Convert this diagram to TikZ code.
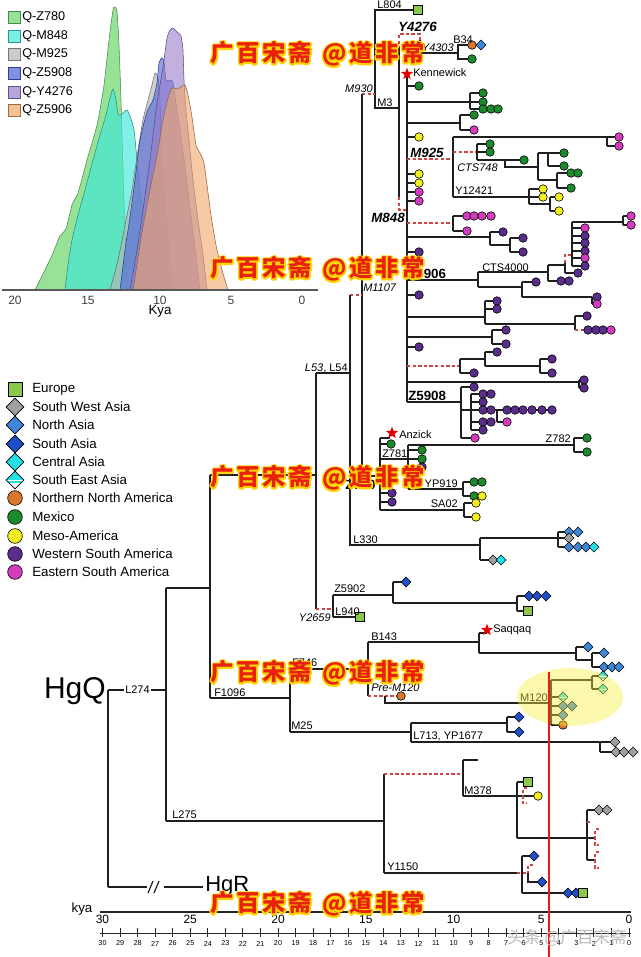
\documentclass[tikz,border=0pt]{standalone}
\usepackage{fontspec}
\setmainfont{Liberation Sans}
\newfontfamily\cjkf{Noto Sans CJK SC}
\usetikzlibrary{shapes.geometric}
\definecolor{cEU}{HTML}{8CC84B}
\definecolor{cSWA}{HTML}{A0A0A0}
\definecolor{cNA}{HTML}{3F86D8}
\definecolor{cSA}{HTML}{1F4FC8}
\definecolor{cCA}{HTML}{22E0E6}
\definecolor{cNNA}{HTML}{D9772E}
\definecolor{cMEX}{HTML}{1C8A2C}
\definecolor{cMESO}{HTML}{F4EE1E}
\definecolor{cWSA}{HTML}{5A2D8C}
\definecolor{cESA}{HTML}{D43BBE}
\definecolor{cRD}{HTML}{D04545}
\definecolor{dZ780}{HTML}{6CD66C}
\definecolor{dM848}{HTML}{3FE8DA}
\definecolor{dM925}{HTML}{B4B4B4}
\definecolor{dZ5908}{HTML}{4A62D8}
\definecolor{dY4276}{HTML}{9A7CCB}
\definecolor{dZ5906}{HTML}{F0A868}
\definecolor{WmR}{HTML}{E8200C}
\definecolor{WmY}{HTML}{FFD200}
\definecolor{Hl}{HTML}{FAF03C}
\definecolor{RedLine}{HTML}{F01818}
\newcount\mkcount
\newcommand\mk[3]{\global\advance\mkcount by 1\relax\node[#1] (m\the\mkcount) at (#2,#3) {};}
\newcommand\mkrow[3]{\foreach \xx in {#3}{\mk{#1}{\xx}{#2}}}
\newcommand\mkcol[3]{\foreach \yy in {#3}{\mk{#1}{#2}{\yy}}}
\newcommand\wmtext{广\kern2pt 百\kern2pt 宋\kern2pt 斋\hspace{0.45em}@\kern2pt 道\kern2pt 非\kern2pt 常}
\newcommand\wm[2]{\global\advance\mkcount by 1\relax
  \node[wmk] (w\the\mkcount) at (#1,#2) {\rlap{\textcolor{WmY}{\special{pdf:literal direct 2 Tr 2.4 w 1 j}\wmtext\special{pdf:literal direct 0 Tr}}}\textcolor{WmR}{\wmtext}};}
\begin{document}
\begin{tikzpicture}[x=0.75pt,y=-0.75pt,
  tr/.style={draw=black!88,line width=0.9pt},
  rd/.style={draw=cRD,line width=0.9pt,dash pattern=on 2.6pt off 1.6pt},
  mkb/.style={inner sep=0pt,draw=black,line width=0.45pt},
  eu/.style={mkb,rectangle,fill=cEU,minimum size=6.5pt},
  dia/.style={mkb,diamond,aspect=1,minimum size=7.6pt},
  swa/.style={dia,fill=cSWA},
  na/.style={dia,fill=cNA},
  sa/.style={dia,fill=cSA},
  ca/.style={dia,fill=cCA},
  sea/.style={dia,fill=cCA,path picture={
     \fill[white] ([yshift=-0.9pt]path picture bounding box.west) rectangle ([yshift=0.2pt]path picture bounding box.east);
     \fill[white] ([yshift=-6pt]path picture bounding box.west) rectangle ([yshift=-2.2pt]path picture bounding box.east);}},
  circ/.style={mkb,circle,minimum size=6.4pt},
  nna/.style={circ,fill=cNNA},
  mex/.style={circ,fill=cMEX},
  meso/.style={circ,fill=cMESO},
  wsa/.style={circ,fill=cWSA},
  esa/.style={circ,fill=cESA},
  starm/.style={star,star points=5,star point ratio=2.4,fill=red!90!black,inner sep=0pt,minimum size=9.5pt},
  lb/.style={inner sep=0pt,font=\fontsize{8.25}{9}\selectfont},
  lbi/.style={inner sep=0pt,font=\fontsize{8.25}{9}\selectfont\itshape},
  lbb/.style={inner sep=0pt,font=\fontsize{10}{11}\selectfont\bfseries},
  lbbi/.style={inner sep=0pt,font=\fontsize{10}{11}\selectfont\bfseries\itshape},
  lgt/.style={anchor=west,inner sep=0pt,font=\fontsize{10}{11}\selectfont},
  dlg/.style={anchor=west,inner sep=0pt,font=\fontsize{9.5}{10}\selectfont},
  dsq/.style={inner sep=0pt,minimum size=9pt,line width=0.5pt},
  wmk/.style={anchor=west,inner sep=0pt,font=\cjkf\bfseries\fontsize{17.5}{18}\selectfont},
  axn/.style={inner sep=0pt,font=\fontsize{9}{10}\selectfont},
  sml/.style={inner sep=0pt,font=\fontsize{5.4}{6}\selectfont}]
\useasboundingbox (0,0) rectangle (640,957);
\fill[white] (0,0) rectangle (640,957);

% ---------- density plot ----------
\filldraw[fill=dZ780,fill opacity=0.7,draw=dZ780!65!black,line width=0.4pt] plot[smooth,tension=0.4] coordinates {(35,290) (45,270) (53,253) (60,236) (66,229) (72,205) (78,193) (87,160) (97,125) (104,85) (109,40) (113,10) (115,7) (117,12) (119,45) (121,100) (123,170) (125,230) (128,290)} -- cycle;
\filldraw[fill=dM848,fill opacity=0.65,draw=dM848!60!black,line width=0.4pt] plot[smooth,tension=0.4] coordinates {(65,290) (68,265) (72,240) (78,215) (85,190) (93,160) (100,135) (106,115) (110,98) (113,89) (116,100) (118,114) (121,115) (124,112) (127,110) (130,116) (134,130) (137,160) (140,190) (144,222) (150,255) (158,290)} -- cycle;
\filldraw[fill=dM925,fill opacity=0.65,draw=dM925!60!black,line width=0.4pt] plot[smooth,tension=0.4] coordinates {(110,290) (118,260) (125,225) (132,190) (138,150) (143,120) (148,100) (152,85) (155,73) (158,78) (160,100) (161,140) (163,180) (167,230) (172,290)} -- cycle;
\filldraw[fill=dZ5908,fill opacity=0.6,draw=dZ5908!60!black,line width=0.4pt] plot[smooth,tension=0.4] coordinates {(120,290) (125,250) (130,217) (135,180) (140,140) (147,112) (153,100) (157,83) (159,63) (162,58) (164,62) (166,80) (170,80) (173,83) (177,110) (182,143) (187,183) (193,233) (200,290)} -- cycle;
\filldraw[fill=dY4276,fill opacity=0.6,draw=dY4276!60!black,line width=0.4pt] plot[smooth,tension=0.4] coordinates {(130,290) (137,250) (143,210) (150,160) (156,110) (160,85) (164,60) (167,38) (170,30) (173,28) (177,32) (181,36) (183,50) (184,80) (186,110) (189,140) (193,180) (198,220) (203,255) (207,290)} -- cycle;
\filldraw[fill=dZ5906,fill opacity=0.6,draw=dZ5906!60!black,line width=0.4pt] plot[smooth,tension=0.4] coordinates {(133,290) (140,245) (146,210) (152,180) (158,150) (163,120) (168,98) (172,88) (177,89) (181,87) (185,85) (188,95) (192,117) (196,145) (200,153) (204,163) (207,185) (211,215) (216,245) (222,270) (228,290)} -- cycle;
\draw[black!65,line width=0.8pt] (2,290) -- (318,290);
\foreach \t/\xp in {20/15,15/88,10/160,5/231,0/302}{\node[axn,text=black!75] (d\t) at (\xp,300) {\t};}
\node[inner sep=0pt,font=\fontsize{10}{11}\selectfont] (dkya) at (160,311) {Kya};
\foreach \c/\nm/\yp in {dZ780/Q-Z780/17,dM848/Q-M848/36,dM925/Q-M925/54,dZ5908/Q-Z5908/73,dY4276/Q-Y4276/92,dZ5906/Q-Z5906/110}{
  \node[dsq,fill=\c!70,draw=\c!65!black] (q\nm) at (14,\yp) {};
  \node[dlg] (t\nm) at (22,\yp) {\nm};}

% ---------- main legend ----------
\node[eu,minimum size=10.5pt] (L1) at (15,389) {};
\node[swa,minimum size=13.5pt] (L2) at (15,407) {};
\node[na,minimum size=13.5pt] (L3) at (15,425) {};
\node[sa,minimum size=13.5pt] (L4) at (15,444) {};
\node[ca,minimum size=13.5pt] (L5) at (15,462) {};
\node[sea,minimum size=13.5pt] (L6) at (15,480) {};
\node[nna,minimum size=11pt] (L7) at (15,498) {};
\node[mex,minimum size=11pt] (L8) at (15,517) {};
\node[meso,minimum size=11pt] (L9) at (15,536) {};
\node[wsa,minimum size=11pt] (L10) at (15,554) {};
\node[esa,minimum size=11pt] (L11) at (15,572) {};
\node[lgt] (T1) at (32,389) {Europe};
\node[lgt] (T2) at (32,407) {South West Asia};
\node[lgt] (T3) at (32,425) {North Asia};
\node[lgt] (T4) at (32,444) {South Asia};
\node[lgt] (T5) at (32,462) {Central Asia};
\node[lgt] (T6) at (32,480) {South East Asia};
\node[lgt] (T7) at (32,498) {Northern North America};
\node[lgt] (T8) at (32,517) {Mexico};
\node[lgt] (T9) at (32,536) {Meso-America};
\node[lgt] (T10) at (32,554) {Western South America};
\node[lgt] (T11) at (32,572) {Eastern South America};

% ---------- tree lines ----------
\draw[tr] (418,10) -- (375,10) -- (375,108) -- (399,108);
\draw[rd] (362,94) -- (375,94);
\draw[tr] (362,94) -- (362,476) -- (380,476);
\draw[rd] (350,295) -- (362,295);
\draw[tr] (316,373) -- (350,373) (350,295) -- (350,545) -- (480,545);
\draw[rd] (420,40) -- (420,34) -- (399,34) -- (399,47);
\draw[tr] (399,47) -- (399,197);
\draw[rd] (399,197) -- (399,210) -- (407,210);
\draw[tr] (420,40) -- (420,53) -- (458,53) (472,45) -- (458,45) -- (458,59) -- (472,59);
\draw[tr] (407,75) -- (407,402);
\draw[tr] (407,86) -- (419,86);
\draw[tr] (407,102) -- (470,102) (470,93) -- (470,109) (470,93) -- (483,93) (470,102) -- (483,102) (470,109) -- (498,109);
\draw[tr] (407,123) -- (460,123) (460,115) -- (460,130) (460,115) -- (474,115) (460,130) -- (474,130);
\draw[tr] (407,137) -- (419,137);
\draw[rd] (407,159) -- (453,159);
\draw[tr] (453,137) -- (453,197) (453,137) -- (607,137) (607,137) -- (607,146) (607,137) -- (619,137) (607,146) -- (619,146);
\draw[rd] (453,152) -- (477,152);
\draw[tr] (477,144) -- (477,160) (477,144) -- (490,144) (477,152) -- (490,152) (477,160) -- (505,160) -- (505,167) -- (538,167) (505,160) -- (524,160) (538,153) -- (538,180) (538,153) -- (548,153) (548,153) -- (548,166) (548,153) -- (564,153) (548,166) -- (564,166) (538,180) -- (557,180) (557,173) -- (557,188) (557,173) -- (578,173) (557,188) -- (571,188);
\draw[tr] (453,197) -- (529,197) (529,189) -- (529,204) (529,189) -- (543,189) (529,197) -- (543,197) (529,204) -- (550,204) (550,197) -- (550,211) (550,197) -- (559,197) (550,211) -- (559,211);
\draw[tr] (407,174) -- (419,174) (407,183) -- (419,183) (407,192) -- (419,192) (407,201) -- (419,201);
\draw[rd] (407,223) -- (453,223);
\draw[tr] (453,216) -- (453,231) (453,216) -- (491,216) (453,231) -- (467,231);
\draw[tr] (407,237) -- (490,237) (490,232) -- (490,245) (490,232) -- (503,232) (490,245) -- (510,245) (510,238) -- (510,252) (510,238) -- (523,238) (510,252) -- (523,252);
\draw[tr] (407,252) -- (419,252);
\draw[tr] (407,280) -- (478,280) (478,272) -- (478,287) (478,272) -- (548,272) (548,265) -- (548,281) (548,265) -- (565,265) (565,263) -- (565,273) (565,273) -- (578,273) (548,281) -- (569,281);
\draw[rd] (565,263) -- (565,255) -- (572,255);
\draw[tr] (572,222) -- (572,266) (572,222) -- (623,222) (623,216) -- (623,225) (623,216) -- (631,216) (623,225) -- (631,225);
\foreach \yy in {228,236,243,251,258,266}{\draw[tr] (572,\yy) -- (585,\yy);}
\draw[tr] (478,287) -- (522,287) (522,282) -- (522,297) (522,282) -- (536,282) (522,297) -- (592,297) (592,297) -- (592,304) (592,304) -- (597,304);
\draw[tr] (407,295) -- (419,295);
\draw[tr] (407,317) -- (485,317) (485,301) -- (485,324) (485,301) -- (497,301) (485,309) -- (497,309) (485,324) -- (575,324) (575,316) -- (575,330) (575,316) -- (587,316);
\draw[rd] (575,330) -- (585,330);
\draw[tr] (407,337) -- (492,337) (492,330) -- (492,344) (492,330) -- (506,330) (492,344) -- (506,344);
\draw[tr] (407,347) -- (419,347);
\draw[rd] (407,366) -- (460,366);
\draw[tr] (460,359) -- (460,373) (460,373) -- (474,373) (460,359) -- (485,359) (485,352) -- (485,366) (485,352) -- (497,352) (485,366) -- (540,366) (540,359) -- (540,373) (540,359) -- (552,359) (540,373) -- (552,373);
\draw[tr] (407,382) -- (579,382) (579,380) -- (579,388) (579,380) -- (584,380) (579,388) -- (584,388);
\draw[tr] (407,402) -- (461,402) (461,387) -- (461,438) (461,387) -- (474,387) (461,438) -- (475,438) (461,410) -- (471,410) (471,394) -- (471,430) (471,394) -- (491,394) (471,402) -- (483,402) (471,410) -- (497,410) (497,410) -- (497,422) (497,410) -- (552,410) (497,422) -- (507,422) (471,422) -- (491,422) (471,430) -- (483,430);
% Z780
\draw[tr] (380,438) -- (380,510) (380,438) -- (390,438) (380,444) -- (391,444) (380,459) -- (408,459) (408,445) -- (408,489) (408,445) -- (574,445) (574,438) -- (574,452) (574,438) -- (587,438) (574,452) -- (587,452) (408,450) -- (422,450) (408,459) -- (422,459) (408,467) -- (422,467) (408,489) -- (463,489) (463,482) -- (463,496) (463,482) -- (482,482) (463,496) -- (482,496) (380,493) -- (392,493) (380,502) -- (392,502) (380,510) -- (464,510) (464,503) -- (464,517) (464,503) -- (476,503) (464,517) -- (476,517);
% L330
\draw[tr] (480,538) -- (480,560) (480,538) -- (569,538) (558,532) -- (558,547) (558,532) -- (578,532) (558,547) -- (594,547) (480,560) -- (501,560);
% lower backbone
\draw[tr] (316,373) -- (316,609) (210,475) -- (316,475) (210,475) -- (210,698) (166,588) -- (210,588) (166,588) -- (166,821);
\draw[rd] (316,609) -- (333,609);
\draw[tr] (333,595) -- (333,617) (333,595) -- (393,595) (393,582) -- (393,603) (393,582) -- (406,582) (393,603) -- (517,603) (517,596) -- (517,611) (517,596) -- (546,596) (517,611) -- (528,611) (333,617) -- (360,617);
\draw[tr] (210,698) -- (290,698) (290,669) -- (290,732) (290,669) -- (368,669) (368,642) -- (368,696) (368,642) -- (479,642) (479,633) -- (479,653) (479,633) -- (487,633) (479,653) -- (576,653) (576,647) -- (576,660) (576,647) -- (588,647) (576,660) -- (592,660) (592,653) -- (592,667) (592,653) -- (604,653) (592,667) -- (619,667);
\draw[rd] (368,696) -- (398,696);
\draw[tr] (385,696) -- (385,703) -- (551,703);
\draw[tr] (551,680) -- (551,725) (551,680) -- (592,680) (592,676) -- (592,689) (592,676) -- (603,676) (592,689) -- (603,689) (551,697) -- (563,697) (551,706) -- (572,706) (551,715) -- (563,715) (551,725) -- (563,725);
\draw[tr] (290,732) -- (411,732) (411,723) -- (411,742) (411,723) -- (507,723) (507,717) -- (507,732) (507,717) -- (519,717) (507,732) -- (519,732) (411,742) -- (615,742) (600,742) -- (600,752) (600,752) -- (633,752);
\draw[tr] (108,690) -- (124,690) (151,690) -- (166,690) (108,690) -- (108,887) (108,887) -- (147,887) (164,887) -- (203,887);
\draw[tr] (148,893) -- (153,881) (154,893) -- (159,881);
\draw[tr] (166,821) -- (384,821) (384,774) -- (384,873);
\draw[rd] (384,774) -- (463,774);
\draw[tr] (463,760) -- (463,796) (463,760) -- (478,760) (463,796) -- (538,796) (517,782) -- (517,838) (517,782) -- (528,782) (517,838) -- (595,838) (587,810) -- (587,860) (587,810) -- (607,810) (587,860) -- (595,860);
\draw[rd] (527,788) -- (523,788) -- (523,803) -- (527,803);
\draw[rd] (587,822) -- (592,822) (599,829) -- (595,829) -- (595,845) -- (599,845) (599,852) -- (595,852) -- (595,868) -- (599,868);
\draw[tr] (384,873) -- (517,873) (522,856) -- (522,893) (522,856) -- (534,856) (528,873) -- (528,882) -- (542,882) (522,893) -- (583,893);
\draw[rd] (517,873) -- (528,873) (533,865) -- (528,865) -- (528,873);

% ---------- markers ----------
\mk{eu}{418}{10}
\mk{nna}{472}{45} \mk{na}{481}{45} \mk{mex}{472}{59}
\mk{starm}{407}{74}
\mk{mex}{419}{86}
\mkrow{mex}{93}{483} \mkrow{mex}{102}{483} \mkrow{mex}{109}{483,491,498}
\mk{mex}{474}{115} \mk{esa}{474}{130}
\mk{meso}{419}{137}
\mk{esa}{619}{137} \mk{esa}{619}{146}
\mk{mex}{490}{144} \mk{mex}{490}{152}
\mk{mex}{524}{160}
\mk{mex}{564}{153} \mk{mex}{564}{166}
\mkrow{mex}{173}{571,578} \mk{mex}{571}{188}
\mk{meso}{543}{189} \mk{meso}{543}{197} \mk{meso}{559}{197} \mk{meso}{559}{211}
\mk{meso}{419}{174} \mk{meso}{419}{183} \mk{esa}{419}{192} \mk{esa}{419}{201}
\mkrow{esa}{216}{467,474,482,491} \mk{esa}{467}{231}
\mk{wsa}{503}{232} \mk{wsa}{523}{238} \mk{wsa}{523}{252}
\mk{wsa}{419}{252}
\mk{esa}{631}{216} \mk{esa}{631}{225}
\mk{esa}{585}{228} \mkcol{wsa}{585}{236,243,251} \mk{esa}{585}{258} \mk{wsa}{585}{266}
\mk{wsa}{578}{273}
\mkrow{wsa}{281}{561,569}
\mk{wsa}{536}{282}
\mk{wsa}{597}{297} \mk{esa}{597}{304}
\mk{wsa}{419}{295}
\mk{wsa}{497}{301} \mk{wsa}{497}{309}
\mk{wsa}{587}{316}
\mkrow{wsa}{330}{588,596,603} \mk{esa}{611}{330}
\mk{wsa}{506}{330} \mk{wsa}{506}{344}
\mk{wsa}{419}{347}
\mk{wsa}{497}{352}
\mk{wsa}{474}{373}
\mk{wsa}{552}{359} \mk{wsa}{552}{373}
\mk{wsa}{584}{380} \mk{wsa}{584}{388}
\mk{wsa}{474}{387}
\mkrow{wsa}{394}{483,491} \mk{wsa}{483}{402}
\mkrow{wsa}{410}{483,491,507,515,523,532,542,552}
\mk{esa}{507}{422}
\mkrow{wsa}{422}{483,491} \mk{wsa}{483}{430}
\mk{esa}{475}{438}
% Z780
\mk{starm}{392}{433}
\mk{mex}{391}{444}
\mk{mex}{422}{450} \mk{mex}{422}{459} \mk{wsa}{422}{467}
\mk{mex}{587}{438} \mk{mex}{587}{452}
\mkrow{mex}{482}{474,482} \mk{mex}{474}{496} \mk{meso}{482}{496}
\mk{wsa}{392}{493} \mk{wsa}{392}{502}
\mk{meso}{476}{503} \mk{meso}{476}{517}
% L330
\mkrow{na}{532}{569,578} \mk{swa}{569}{538}
\mkrow{na}{547}{569,578,586} \mk{ca}{594}{547}
\mk{swa}{493}{560} \mk{ca}{501}{560}
% Z5902 / L940
\mk{sa}{406}{582}
\mkrow{sa}{596}{529,537,546}
\mk{eu}{528}{611}
\mk{eu}{360}{617}
% B143
\mk{starm}{487}{630}
\mk{na}{588}{647}
\mk{na}{604}{653}
\mkrow{na}{667}{604,612,619}
\mk{nna}{401}{696}
% M120
\mk{sea}{603}{676} \mk{sea}{603}{689} \mk{sea}{563}{697}
\mkrow{na}{706}{563,572} \mk{na}{563}{715} \mk{nna}{563}{725}
% M25
\mk{sa}{519}{717} \mk{sa}{519}{732}
\mk{swa}{615}{742}
\mkrow{swa}{752}{616,624,633}
% L275
\mk{eu}{528}{782}
\mk{meso}{538}{796}
\mkrow{swa}{810}{599,607}
\mk{sa}{534}{856}
\mk{sa}{542}{882}
\mkrow{sa}{893}{568,576}
\mk{eu}{583}{893}

% ---------- labels ----------
\node[lb,anchor=base west] (lL804) at (377,8.5) {L804};
\node[lbi,anchor=base east] (lM930) at (373,92.5) {M930};
\node[lb,anchor=base west] (lM3) at (377,106.5) {M3};
\node[lbbi,anchor=base west] (lY4276) at (398,31) {Y4276};
\node[lbi,anchor=base east] (lY4303) at (454,51) {Y4303};
\node[lb,anchor=base west] (lB34) at (453,43) {B34};
\node[lb,anchor=base west] (lKen) at (413,76) {Kennewick};
\node[lbbi,anchor=base west] (lM925) at (410,157) {M925};
\node[lbi,anchor=base west] (lCTS748) at (457,171) {CTS748};
\node[lb,anchor=base west] (lY12421) at (455,194.5) {Y12421};
\node[lbbi,anchor=base east] (lM848) at (405,222) {M848};
\node[lbb,anchor=base west] (lZ5906) at (408,278) {Z5906};
\node[lb,anchor=base west] (lCTS4000) at (482,271) {CTS4000};
\node[lbi,anchor=base west] (lM1107) at (363,291) {M1107};
\node[lb,anchor=base east] (lL53) at (348,371) {\textit{L53}, L54};
\node[lbb,anchor=base west] (lZ5908) at (408,400) {Z5908};
\node[lbb,anchor=base west] (lZ780) at (345,489) {Z780};
\node[lb,anchor=base west] (lAnz) at (399,438) {Anzick};
\node[lb,anchor=base west] (lZ781) at (382,457) {Z781};
\node[lb,anchor=base east] (lZ782) at (571,442) {Z782};
\node[lb,anchor=base east] (lYP919) at (458,487) {YP919};
\node[lb,anchor=base east] (lSA02) at (458,507) {SA02};
\node[lb,anchor=base west] (lL330) at (353,543) {L330};
\node[lb,anchor=base west] (lZ5902) at (334,592.5) {Z5902};
\node[lbi,anchor=base east] (lY2659) at (331,621) {Y2659};
\node[lb,anchor=base west] (lL940) at (335,615) {L940};
\node[lb,anchor=base west] (lB143) at (371,640) {B143};
\node[lb,anchor=base west] (lSaq) at (493,632) {Saqqaq};
\node[lb,anchor=base west] (lF746) at (292,666.5) {F746};
\node[lb,anchor=base west] (lF1096) at (214,696) {F1096};
\node[lbi,anchor=base west] (lPre) at (371,691.5) {Pre-M120};
\node[lb,anchor=base east] (lM120) at (548,701.5) {M120};
\node[lb,anchor=base west] (lM25) at (291,729.5) {M25};
\node[lb,anchor=base west] (lL713) at (413,739) {L713, YP1677};
\node[lb,anchor=base west] (lM378) at (464,794) {M378};
\node[lb,anchor=base west] (lL275) at (172,818) {L275};
\node[lb,anchor=base west] (lY1150) at (387,870.5) {Y1150};
\node[lb] (lL274) at (137.5,690) {L274};
\node[inner sep=0pt,anchor=base east,font=\fontsize{22.5}{24}\selectfont] (lHgQ) at (106,698) {HgQ};
\node[inner sep=0pt,anchor=base west,font=\fontsize{16.5}{18}\selectfont] (lHgR) at (205,891) {HgR};

% ---------- highlight & marker line ----------
\fill[Hl,opacity=0.42] (570,697) ellipse [x radius=53, y radius=29];
\draw[RedLine,line width=0.85pt] (549,672) -- (549,957);

% ---------- time axis ----------
\node[inner sep=0pt,font=\fontsize{10}{11}\selectfont] (kya) at (82,909) {kya};
\draw[black!85,line width=0.8pt] (100,912) -- (631,912);
\foreach \t in {0,5,...,30}{\pgfmathsetmacro\ax{629-17.55*\t}\node[axn] (a\t) at (\ax,919.5) {\t};}
\draw[black!85,line width=0.7pt] (100,933) -- (631,933);
\foreach \t in {0,1,...,30}{\pgfmathsetmacro\ax{629-17.55*\t}\draw[black!85,line width=0.7pt] (\ax,928) -- (\ax,937);\node[sml] (s\t) at (\ax,943.5) {\t};}
\draw[RedLine,line width=0.85pt] (549,905) -- (549,957);

% ---------- watermarks ----------
\node[inner sep=0pt,text=gray!55,font=\cjkf\fontsize{12.5}{13}\selectfont] (wmb) at (567,938) {头条 @广百宋斋};
\wm{210}{54}
\wm{210}{269}
\wm{210}{478}
\wm{210}{673}
\wm{210}{904}
\end{tikzpicture}
\end{document}
